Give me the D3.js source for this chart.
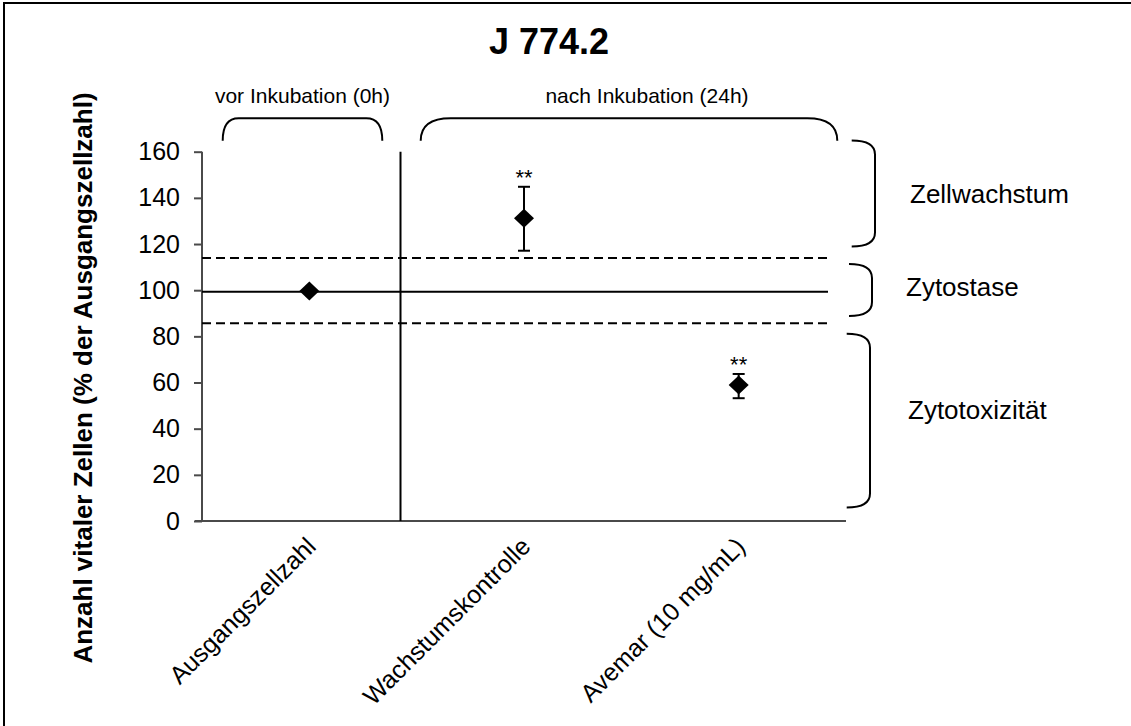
<!DOCTYPE html>
<html>
<head>
<meta charset="utf-8">
<script src="https://cdn.jsdelivr.net/npm/d3@7"></script>
<style>
    body { margin: 0; background: #fff; }
    text { font-family: "Liberation Sans", Arial, sans-serif; fill: #000; }
</style>
</head>
<body>
<script>
const width = 1131;
const height = 726;

// data
const categories = ['Ausgangszellzahl', 'Wachstumskontrolle', 'Avemar (10 mg/mL)'];
const means = [99.6, 131.2, 58.9];
const errLow = [null, 117.1, 53.2];
const errHigh = [null, 144.8, 63.7];
const stars = ['', '**', '**'];
const yTicks = [0, 20, 40, 60, 80, 100, 120, 140, 160];
const baseline = 99.3;
const limits = [113.9, 85.7];
const zones = ['Zellwachstum', 'Zytostase', 'Zytotoxizität'];
const zoneFrom = [164.8, 111.3, 81.1];
const zoneTo = [118.9, 88.8, 5.8];
const phases = ['vor Inkubation (0h)', 'nach Inkubation (24h)'];

const svg = d3.select('body').append('svg')
    .attr('width', width)
    .attr('height', height);

// frame (only top/left visible in the picture)
svg.append('rect')
    .attr('x', 4).attr('y', 3)
    .attr('width', width + 20).attr('height', height + 20)
    .attr('fill', 'none').attr('stroke', '#000').attr('stroke-width', 2);

const x = d3.scaleBand().domain(categories).range([202, 846]);
const y = d3.scaleLinear().domain([0, 160]).range([521, 151.7]);
const cx = d => x(d) + x.bandwidth() / 2;

// title
svg.append('text')
    .attr('x', 549).attr('y', 54)
    .attr('text-anchor', 'middle')
    .style('font-size', '36px').style('font-weight', 'bold')
    .text('J 774.2');

// y axis label
svg.append('text')
    .attr('transform', 'translate(92,378) rotate(-90)')
    .attr('text-anchor', 'middle')
    .style('font-size', '26px').style('font-weight', 'bold')
    .text('Anzahl vitaler Zellen (% der Ausgangszellzahl)');

// y axis
const yAxis = svg.append('g')
    .attr('transform', 'translate(202,0)')
    .call(d3.axisLeft(y).tickValues(yTicks).tickSize(8).tickPadding(14));
yAxis.selectAll('line, path').attr('stroke', '#4a4a4a').attr('stroke-width', 2);
yAxis.select('.domain').attr('d', 'M0,' + y(160) + 'V' + y(0));
yAxis.selectAll('text').style('font-size', '25px').attr('fill', '#000');

// x axis (no ticks)
const xAxis = svg.append('g')
    .attr('transform', 'translate(0,' + y(0) + ')')
    .call(d3.axisBottom(x).tickSize(0).tickPadding(0));
xAxis.select('.domain').attr('stroke', '#4a4a4a').attr('stroke-width', 2)
    .attr('d', 'M195,0H846');
xAxis.selectAll('.tick text')
    .style('font-size', '25px').attr('fill', '#000')
    .attr('text-anchor', 'end')
    .attr('dy', null)
    .attr('transform', 'translate(8,27) rotate(-45)');

// reference lines
const lineX0 = 202, lineX1 = 830;
svg.append('line')
    .attr('x1', lineX0).attr('x2', 828)
    .attr('y1', y(baseline)).attr('y2', y(baseline))
    .attr('stroke', '#000').attr('stroke-width', 2);
svg.selectAll('.limit').data(limits).join('line')
    .attr('class', 'limit')
    .attr('x1', lineX0).attr('x2', lineX1)
    .attr('y1', d => y(d)).attr('y2', d => y(d))
    .attr('stroke', '#000').attr('stroke-width', 2)
    .attr('stroke-dasharray', '9,5');

// separator between before / after incubation
const sepX = cx(categories[1]) - 123.5;
svg.append('line')
    .attr('x1', sepX).attr('x2', sepX)
    .attr('y1', y(160)).attr('y2', y(0))
    .attr('stroke', '#000').attr('stroke-width', 2);

// error bars
const idx = d3.range(categories.length).filter(i => errLow[i] != null);
const eb = svg.selectAll('.err').data(idx).join('g').attr('class', 'err')
    .attr('stroke', '#000').attr('stroke-width', 2);
eb.append('line')
    .attr('x1', i => cx(categories[i])).attr('x2', i => cx(categories[i]))
    .attr('y1', i => y(errLow[i])).attr('y2', i => y(errHigh[i]));
eb.append('line')
    .attr('x1', i => cx(categories[i]) - 6).attr('x2', i => cx(categories[i]) + 6)
    .attr('y1', i => y(errLow[i])).attr('y2', i => y(errLow[i]));
eb.append('line')
    .attr('x1', i => cx(categories[i]) - 6).attr('x2', i => cx(categories[i]) + 6)
    .attr('y1', i => y(errHigh[i])).attr('y2', i => y(errHigh[i]));

// diamonds
const dw = 10, dh = 9.5;
svg.selectAll('.pt').data(means).join('path')
    .attr('class', 'pt')
    .attr('transform', (d, i) => 'translate(' + cx(categories[i]) + ',' + y(d) + ')')
    .attr('d', 'M0,' + (-dh) + 'L' + dw + ',0L0,' + dh + 'L' + (-dw) + ',0Z')
    .attr('fill', '#000');

// significance stars
svg.selectAll('.star').data(idx).join('text')
    .attr('class', 'star')
    .attr('x', i => cx(categories[i]))
    .attr('y', i => y(errHigh[i]) - 1.5)
    .attr('text-anchor', 'middle')
    .style('font-size', '22px')
    .text(i => stars[i]);

// top braces for phases
const topBraces = [[222.7, 382.3, 16], [420.7, 837.3, 30]];
const bTop = 118.3, bBot = 140.7;
svg.selectAll('.tbrace').data(topBraces).join('path')
    .attr('class', 'tbrace')
    .attr('d', d => {
        const r = d[2];
        return 'M' + d[0] + ',' + bBot +
            'Q' + d[0] + ',' + bTop + ' ' + (d[0] + r) + ',' + bTop +
            'H' + (d[1] - r) +
            'Q' + d[1] + ',' + bTop + ' ' + d[1] + ',' + bBot;
    })
    .attr('fill', 'none').attr('stroke', '#000').attr('stroke-width', 2);
svg.selectAll('.phase').data(phases).join('text')
    .attr('class', 'phase')
    .attr('x', (d, i) => i === 0 ? 302.5 : 647)
    .attr('y', 103)
    .attr('text-anchor', 'middle')
    .style('font-size', '21px')
    .text(d => d);

// right brackets for zones
const zoneX = [[851.7, 875], [849, 872], [846.7, 870]];
svg.selectAll('.rbrace').data(zones).join('path')
    .attr('class', 'rbrace')
    .attr('d', (d, i) => {
        const x0 = zoneX[i][0], x1 = zoneX[i][1];
        const y0 = y(zoneFrom[i]), y1 = y(zoneTo[i]);
        const rv = Math.min(14, (y1 - y0) / 3);
        return 'M' + x0 + ',' + y0 +
            'Q' + x1 + ',' + y0 + ' ' + x1 + ',' + (y0 + rv) +
            'V' + (y1 - rv) +
            'Q' + x1 + ',' + y1 + ' ' + x0 + ',' + y1;
    })
    .attr('fill', 'none').attr('stroke', '#000').attr('stroke-width', 2);
const zoneLabelX = [910, 906, 908];
const zoneLabelY = [203, 296, 419];
svg.selectAll('.zone').data(zones).join('text')
    .attr('class', 'zone')
    .attr('x', (d, i) => zoneLabelX[i])
    .attr('y', (d, i) => zoneLabelY[i])
    .style('font-size', '26px')
    .text(d => d);
</script>
</body>
</html>
